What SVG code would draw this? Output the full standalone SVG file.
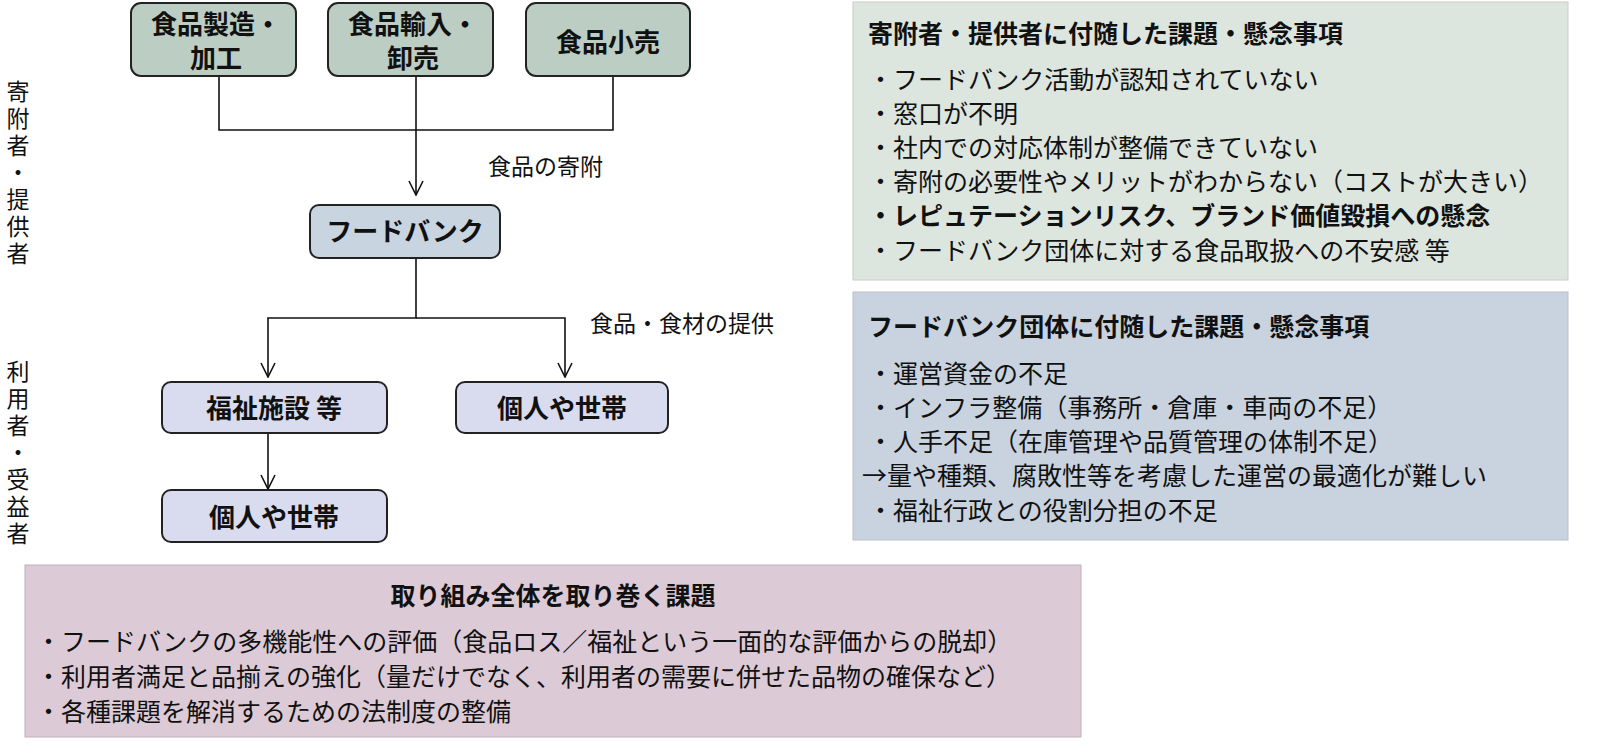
<svg xmlns="http://www.w3.org/2000/svg" width="1600" height="753" viewBox="0 0 1600 753">
<style>
text{font-family:"Noto Sans CJK JP","Noto Sans CJK SC",sans-serif;fill:#111}
.n{stroke:#222;stroke-width:2}
.nt{font-size:26px;font-weight:bold;text-anchor:middle}
.t{font-size:25px}
.s{font-size:23px;writing-mode:vertical-rl;letter-spacing:4px}
.l{font-size:23px}
.h{font-size:25px;font-weight:bold}
.c{fill:none;stroke:#111;stroke-width:1.6}
</style>
<defs><marker id="a" markerWidth="16" markerHeight="16" refX="15" refY="8" orient="auto" markerUnits="userSpaceOnUse" viewBox="0 0 16 16"><path d="M1,1 L15,8 L1,15" fill="none" stroke="#111" stroke-width="1.6"/></marker></defs>
<rect width="1600" height="753" fill="#fff"/>
<g id="side">
<text class="s" x="18" y="80">寄附者・提供者</text>
<text class="s" x="18" y="360">利用者・受益者</text>
</g>
<g id="connectors">
<path class="c" d="M219,76 V130 H613 V76"/>
<path class="c" d="M416,76 V195" marker-end="url(#a)"/>
<path class="c" d="M416,258 V318 H268 V377" marker-end="url(#a)"/>
<path class="c" d="M416,318 H565 V377" marker-end="url(#a)"/>
<path class="c" d="M268,433 V489" marker-end="url(#a)"/>
<text class="l" x="488" y="175">食品の寄附</text>
<text class="l" x="590" y="332">食品・食材の提供</text>
</g>
<g id="n1"><rect class="n" x="131" y="3" width="165" height="73" rx="10" fill="#bccdc3"/><text class="nt" x="216" y="34">食品製造・</text><text class="nt" x="216" y="68">加工</text></g>
<g id="n2"><rect class="n" x="328" y="3" width="165" height="73" rx="10" fill="#bccdc3"/><text class="nt" x="413" y="34">食品輸入・</text><text class="nt" x="413" y="68">卸売</text></g>
<g id="n3"><rect class="n" x="526" y="3" width="164" height="73" rx="10" fill="#bccdc3"/><text class="nt" x="608" y="52">食品小売</text></g>
<g id="fb"><rect class="n" x="310" y="205" width="190" height="53" rx="9" fill="#c8d4e0"/><text class="nt" x="405" y="241">フードバンク</text></g>
<g id="fac"><rect class="n" x="162" y="382" width="225" height="51" rx="9" fill="#d9dcef"/><text class="nt" x="274" y="418">福祉施設 等</text></g>
<g id="ind1"><rect class="n" x="456" y="382" width="212" height="51" rx="9" fill="#d9dcef"/><text class="nt" x="562" y="418">個人や世帯</text></g>
<g id="ind2"><rect class="n" x="162" y="490" width="225" height="52" rx="9" fill="#d9dcef"/><text class="nt" x="274" y="527">個人や世帯</text></g>
<g id="p1"><rect x="853" y="2" width="715" height="278" fill="#dde5df" stroke="#c8ccc8"/>
<text class="h" x="868" y="43">寄附者・提供者に付随した課題・懸念事項</text>
<text class="t" x="868" y="89">・フードバンク活動が認知されていない</text>
<text class="t" x="868" y="123">・窓口が不明</text>
<text class="t" x="868" y="157">・社内での対応体制が整備できていない</text>
<text class="t" x="868" y="191">・寄附の必要性やメリットがわからない（コストが大きい）</text>
<text class="h" x="868" y="225">・レピュテーションリスク、ブランド価値毀損への懸念</text>
<text class="t" x="868" y="260">・フードバンク団体に対する食品取扱への不安感 等</text></g>
<g id="p2"><rect x="853" y="292" width="715" height="248" fill="#c8d3df" stroke="#b8c0c8"/>
<text class="h" x="868" y="336">フードバンク団体に付随した課題・懸念事項</text>
<text class="t" x="868" y="383">・運営資金の不足</text>
<text class="t" x="868" y="417">・インフラ整備（事務所・倉庫・車両の不足）</text>
<text class="t" x="868" y="451">・人手不足（在庫管理や品質管理の体制不足）</text>
<text class="t" x="862" y="485">→量や種類、腐敗性等を考慮した運営の最適化が難しい</text>
<text class="t" x="868" y="520">・福祉行政との役割分担の不足</text></g>
<g id="p3"><rect x="25" y="565" width="1056" height="172" fill="#dccbd6" stroke="#c0b0bb"/>
<text class="h" x="553" y="605" text-anchor="middle">取り組み全体を取り巻く課題</text>
<text class="t" x="36" y="651">・フードバンクの多機能性への評価（食品ロス／福祉という一面的な評価からの脱却）</text>
<text class="t" x="36" y="686">・利用者満足と品揃えの強化（量だけでなく、利用者の需要に併せた品物の確保など）</text>
<text class="t" x="36" y="721">・各種課題を解消するための法制度の整備</text></g>
</svg>
